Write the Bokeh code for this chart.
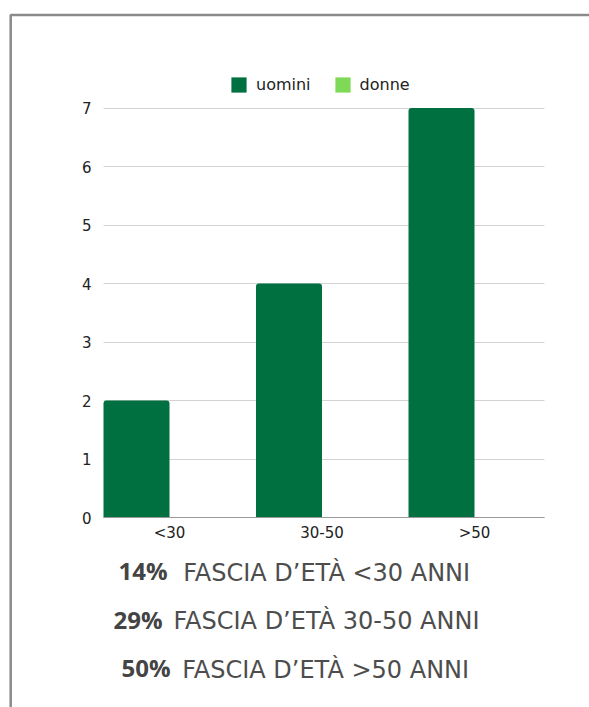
from bokeh.plotting import figure
from bokeh.models import (Range1d, FixedTicker, Legend, LegendItem, Label,
                          PolyAnnotation, ColumnDataSource, Grid)
from bokeh.transform import dodge
from bokeh.embed import file_html
from bokeh.resources import INLINE

# ---- data ----
categories = ["<30", "30-50", ">50"]
uomini = [2, 4, 7]
donne = [0, 0, 0]
y_ticks = [0, 1, 2, 3, 4, 5, 6, 7]
percentuali = ["14%", "29%", "50%"]
fasce = ["FASCIA D\u2019ET\u00c0 <30 ANNI", "FASCIA D\u2019ET\u00c0 30-50 ANNI",
         "FASCIA D\u2019ET\u00c0 >50 ANNI"]

# ---- layout (frame covers the whole canvas; chart area placed by data ranges) ----
W, H = 589, 707
PX = 152.5          # pixels per category
PY = 58.5           # pixels per unit of value
BAR_W = 0.4328
CH_LEFT, CH_RIGHT, CH_ZERO = 103, 544, 517   # chart area in canvas pixels
XA0 = -BAR_W                                  # chart area left in data
XA1 = XA0 + (CH_RIGHT - CH_LEFT) / PX          # chart area right in data

def dx(px):
    return XA0 + (px - CH_LEFT) / PX

def dy(py):
    return (CH_ZERO - py) / PY

src = ColumnDataSource(dict(x=list(range(len(categories))), cat=categories,
                            uomini=uomini, donne=donne))

p = figure(width=W, height=H, output_backend="svg", toolbar_location=None,
           x_range=Range1d(dx(0), dx(W)), y_range=Range1d(dy(H), dy(0)),
           min_border=0)
p.outline_line_color = None
p.background_fill_color = "white"
p.border_fill_color = "white"

# grid lines limited to chart area
p.xgrid.visible = False
p.ygrid.ticker = FixedTicker(ticks=y_ticks)
p.ygrid.grid_line_color = "#d3d3d3"
if "cross_bounds" in Grid.properties():
    p.ygrid.cross_bounds = (XA0, XA1)
else:
    p.ygrid.visible = False
    p.segment(x0=XA0, x1=XA1, y0=y_ticks, y1=y_ticks, line_color="#d3d3d3")

r1 = p.vbar(x=dodge("x", -BAR_W / 2), top="uomini", width=BAR_W, source=src,
            fill_color="#007041", line_color=None, border_radius=(3, 3, 0, 0))
r2 = p.vbar(x=dodge("x", BAR_W / 2), top="donne", width=BAR_W, source=src,
            fill_color="#7ed957", line_color=None, border_radius=(3, 3, 0, 0))

# axes (fixed inside the frame)
p.xaxis.fixed_location = 0
p.xaxis.bounds = (XA0, XA1)
p.xaxis.ticker = FixedTicker(ticks=list(range(len(categories))))
p.xaxis.major_label_overrides = {i: c for i, c in enumerate(categories)}
p.xaxis.axis_line_color = "#9a9a9a"
p.xaxis.major_tick_line_color = None
p.xaxis.minor_tick_line_color = None
p.xaxis.major_tick_out = 0
p.xaxis.major_tick_in = 0
p.xaxis.major_label_standoff = 6
p.xaxis.major_label_text_font = "DejaVu Sans"
p.xaxis.major_label_text_font_size = "15px"
p.xaxis.major_label_text_color = "#222222"

p.yaxis.fixed_location = XA0
p.yaxis.bounds = (0, 7)
p.yaxis.ticker = FixedTicker(ticks=y_ticks)
p.yaxis.axis_line_color = None
p.yaxis.major_tick_line_color = None
p.yaxis.minor_tick_line_color = None
p.yaxis.major_tick_out = 0
p.yaxis.major_tick_in = 0
p.yaxis.major_label_standoff = 12
p.yaxis.major_label_text_font = "DejaVu Sans"
p.yaxis.major_label_text_font_size = "15px"
p.yaxis.major_label_text_color = "#222222"

# legend above the chart area
legend = Legend(items=[LegendItem(label="uomini", renderers=[r1]),
                       LegendItem(label="donne", renderers=[r2])],
                orientation="horizontal", location=(229, H - 94),
                glyph_width=19, glyph_height=19, label_standoff=8, spacing=22,
                padding=0, margin=0, border_line_color=None,
                background_fill_alpha=0, label_text_font="DejaVu Sans",
                label_text_font_size="16px", label_text_color="#222222")
p.add_layout(legend, "center")

# card border (top and left edges)
p.add_layout(PolyAnnotation(xs=[dx(10.2), dx(2000), dx(2000), dx(10.2)],
                            ys=[dy(14.5), dy(14.5), dy(2000), dy(2000)],
                            fill_alpha=0, line_color="#8a8a8a", line_alpha=1.0,
                            line_width=2.5))

# summary text lines
bold_end = [167, 162, 170]
reg_start = [182.7, 173, 181.7]
baselines = [572, 620.5, 669]
for pc, txt, be, rs, bl in zip(percentuali, fasce, bold_end, reg_start, baselines):
    p.add_layout(Label(x=dx(be), y=dy(bl - 2), text=pc, text_align="right",
                       text_baseline="alphabetic", text_font="Open Sans",
                       text_font_style="bold", text_font_size="24px",
                       text_color="#444444"))
    p.add_layout(Label(x=dx(rs), y=dy(bl), text=txt, text_align="left",
                       text_baseline="alphabetic", text_font="DejaVu Sans",
                       text_font_size="24px", text_color="#4d4d4d"))

open("out.html", "w").write(file_html(p, INLINE))
